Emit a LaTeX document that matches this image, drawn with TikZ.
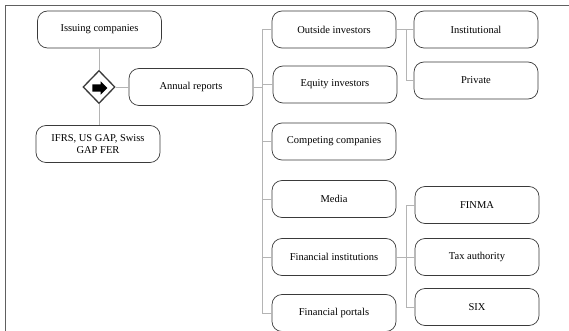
\documentclass[tikz,border=0pt]{standalone}
\usepackage{fontspec}
\setmainfont{Liberation Serif}
\usetikzlibrary{shapes.geometric,shapes.arrows}

\definecolor{boxline}{HTML}{3A3A3A}
\definecolor{connline}{HTML}{B4B4B4}
\definecolor{frameline}{HTML}{606060}

\tikzset{
    entity/.style={rectangle, rounded corners=10pt, draw=boxline, line width=0.7pt,
        minimum width=124pt, minimum height=37pt, align=center,
        font=\fontsize{10.5}{12.5}\selectfont},
    conn/.style={draw=connline, line width=0.6pt},
    gate/.style={diamond, draw=boxline, line width=1.3pt, fill=white,
        minimum width=32pt, minimum height=33pt, inner sep=0pt},
    gatearrow/.style={single arrow, fill=black, inner xsep=0pt, inner ysep=3.5pt,
        minimum height=15pt, single arrow head extend=3pt}
}

\begin{document}
\begin{tikzpicture}[x=1pt, y=-1pt]
    \useasboundingbox (0,0) rectangle (569,331);
    \draw[frameline, line width=1pt] (5,331) -- (5,6) -- (569,6);

    \node at (99.5,29.5) [entity] (issuer) {Issuing companies};
    \node at (99,87) [gate] (gw) {};
    \node at (98,88) [gatearrow] (gwarrow) {};
    \node at (191,87) [entity] (reports) {Annual reports};
    \node at (98,144) [entity] (standards) {IFRS, US GAP, Swiss\\GAP FER};

    \node at (334,29.5) [entity] (outside) {Outside investors};
    \node at (335,84.5) [entity] (equity) {Equity investors};
    \node at (334,141.5) [entity] (competing) {Competing companies};
    \node at (334,199) [entity] (media) {Media};
    \node at (334,257) [entity] (fininst) {Financial institutions};
    \node at (334,313) [entity] (portals) {Financial portals};

    \node at (476,29.5) [entity] (institutional) {Institutional};
    \node at (476,80.5) [entity] (private) {Private};
    \node at (477,205) [entity] (finma) {FINMA};
    \node at (477,257) [entity] (tax) {Tax authority};
    \node at (477,307) [entity] (six) {SIX};

    \coordinate (trunk) at (262,0);
    \coordinate (invtrunk) at (406,0);

    \draw[conn] (issuer.south -| gw) -- (gw.north);
    \draw[conn] (gw.south) -- (standards.north -| gw);
    \draw[conn] (gw.east) -- (reports.west);

    \draw[conn] (reports.east) -- (reports.east -| trunk);
    \draw[conn] (trunk |- outside.west) -- (trunk |- portals.west);
    \foreach \n in {outside, equity, competing, media, fininst, portals}
        \draw[conn] (trunk |- \n.west) -- (\n.west);

    \draw[conn] (outside.east) -- (outside.east -| invtrunk);
    \draw[conn] (invtrunk |- institutional.west) -- (invtrunk |- private.west);
    \draw[conn] (invtrunk |- institutional.west) -- (institutional.west);
    \draw[conn] (invtrunk |- private.west) -- (private.west);

    \draw[conn] (fininst.east) -- (fininst.east -| invtrunk);
    \draw[conn] (invtrunk |- finma.west) -- (invtrunk |- six.west);
    \foreach \n in {finma, tax, six}
        \draw[conn] (invtrunk |- \n.west) -- (\n.west);
\end{tikzpicture}
\end{document}
